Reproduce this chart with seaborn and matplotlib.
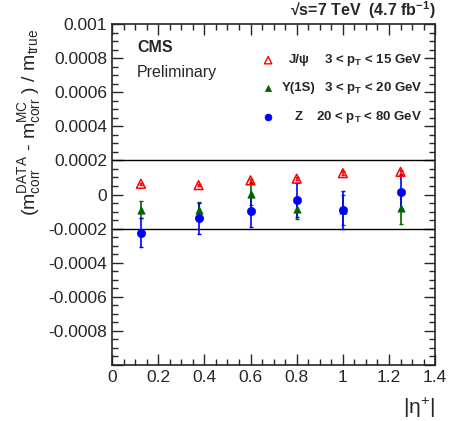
import matplotlib
matplotlib.use("Agg")
import matplotlib.pyplot as plt
from matplotlib.ticker import MultipleLocator
import pandas as pd
import seaborn as sns

eta = [0.125, 0.375, 0.6, 0.8, 1.0, 1.25]

jpsi = [0.000063, 0.000055, 0.000083, 0.000093, 0.000125, 0.000133]
jpsi_err = [0.000005, 0.000005, 0.000007, 0.000008, 0.000010, 0.000012]

ups = [-0.000089, -0.000093, 0.000004, -0.000085, -0.000090, -0.000080]
ups_err = [0.000050, 0.000050, 0.000065, 0.000060, 0.000090, 0.000095]

zb = [-0.000224, -0.000139, -0.000095, -0.000032, -0.000091, 0.000014]
zb_err = [0.000085, 0.000090, 0.000098, 0.000100, 0.000110, 0.000098]

series = [
    ("J/\u03c8", "3 < p$_{\\mathregular{T}}$ < 15 GeV", jpsi, jpsi_err, "red", "^", "none", 40),
    ("\u03a5(1S)", "3 < p$_{\\mathregular{T}}$ < 20 GeV", ups, ups_err, "#006400", "^", "#006400", 28),
    ("Z", "20 < p$_{\\mathregular{T}}$ < 80 GeV", zb, zb_err, "blue", "o", "blue", 35),
]

sns.set_style("ticks")
plt.rcParams["font.family"] = ["Liberation Sans", "DejaVu Sans"]
plt.rcParams["mathtext.fontset"] = "custom"
plt.rcParams["mathtext.rm"] = "Liberation Sans"
plt.rcParams["mathtext.it"] = "Liberation Sans"
plt.rcParams["mathtext.bf"] = "Liberation Sans:bold"

fig = plt.figure(figsize=(4.5, 4.21), dpi=100)
ax = fig.add_axes([0.249, 0.133, 0.718, 0.81])

ax.axhline(0.0002, color="black", lw=1)
ax.axhline(-0.0002, color="black", lw=1)

for name, rng, vals, errs, col, mk, fc, sz in series:
    df = pd.DataFrame({"eta": eta, "val": vals, "err": errs})
    ax.errorbar(df["eta"], df["val"], yerr=df["err"], fmt="none", ecolor=col,
                elinewidth=1.2, capsize=1.5, capthick=1)
    if fc == "none":
        sns.scatterplot(data=df, x="eta", y="val", marker=mk, s=sz, facecolors="none",
                        edgecolor=col, linewidth=1.1, ax=ax, zorder=5)
    else:
        sns.scatterplot(data=df, x="eta", y="val", marker=mk, s=sz, color=col,
                        edgecolor=col, linewidth=0.5, ax=ax, zorder=5)

ax.set_xlim(0, 1.4)
ax.set_ylim(-0.001, 0.001)
ax.xaxis.set_minor_locator(MultipleLocator(0.05))
ax.yaxis.set_minor_locator(MultipleLocator(0.00005))
ax.set_xticks([0, 0.2, 0.4, 0.6, 0.8, 1.0, 1.2, 1.4])
ax.set_xticklabels(["0", "0.2", "0.4", "0.6", "0.8", "1", "1.2", "1.4"])
yt = [-0.001, -0.0008, -0.0006, -0.0004, -0.0002, 0, 0.0002, 0.0004, 0.0006, 0.0008, 0.001]
ax.set_yticks(yt)
ax.set_yticklabels(["", "-0.0008", "-0.0006", "-0.0004", "-0.0002", "0", "0.0002",
                    "0.0004", "0.0006", "0.0008", "0.001"])
ax.tick_params(which="both", direction="in", top=True, right=True, labelsize=12.5)
ax.tick_params(which="major", length=8, width=1)
ax.tick_params(which="minor", length=4, width=1)
for s in ax.spines.values():
    s.set_linewidth(1.2)
ax.set_xlabel("|\u03b7$^{\\mathregular{+}}$|", fontsize=15, ha="right", x=1.0)
ax.set_ylabel("(m$_{\\mathregular{corr}}^{\\mathregular{DATA}}$ - m$_{\\mathregular{corr}}^{\\mathregular{MC}}$ ) / m$_{\\mathregular{true}}$",
              fontsize=14, ha="right", y=0.985)
ax.xaxis.set_label_coords(1.0, -0.09)
ax.yaxis.set_label_coords(-0.215, 0.985)

ax.text(0.077, 0.93, "CMS", transform=ax.transAxes, fontsize=11.5, fontweight="bold", va="center")
ax.text(0.077, 0.859, "Preliminary", transform=ax.transAxes, fontsize=11.5, va="center")

fig.text(0.967, 0.977, "\u221as=7 TeV  (4.7 fb$^{\\mathregular{-1}}$)", fontsize=11.5,
         fontweight="bold", ha="right", va="center")

rows = [0.894, 0.812, 0.727]
for (name, rng, vals, errs, col, mk, fc, sz), yy in zip(series, rows):
    ax.scatter([0.483], [yy], transform=ax.transAxes, marker=mk, s=sz * 0.7,
               facecolors=fc, edgecolors=col, linewidths=1.0 if fc == "none" else 0.5, clip_on=False)
    ax.text(0.579, yy, name, transform=ax.transAxes, fontsize=9.5, fontweight="bold",
            ha="center", va="center")
    ax.text(0.96, yy, rng, transform=ax.transAxes, fontsize=9.5, fontweight="bold",
            ha="right", va="center")

fig.savefig("out.png", dpi=100)
